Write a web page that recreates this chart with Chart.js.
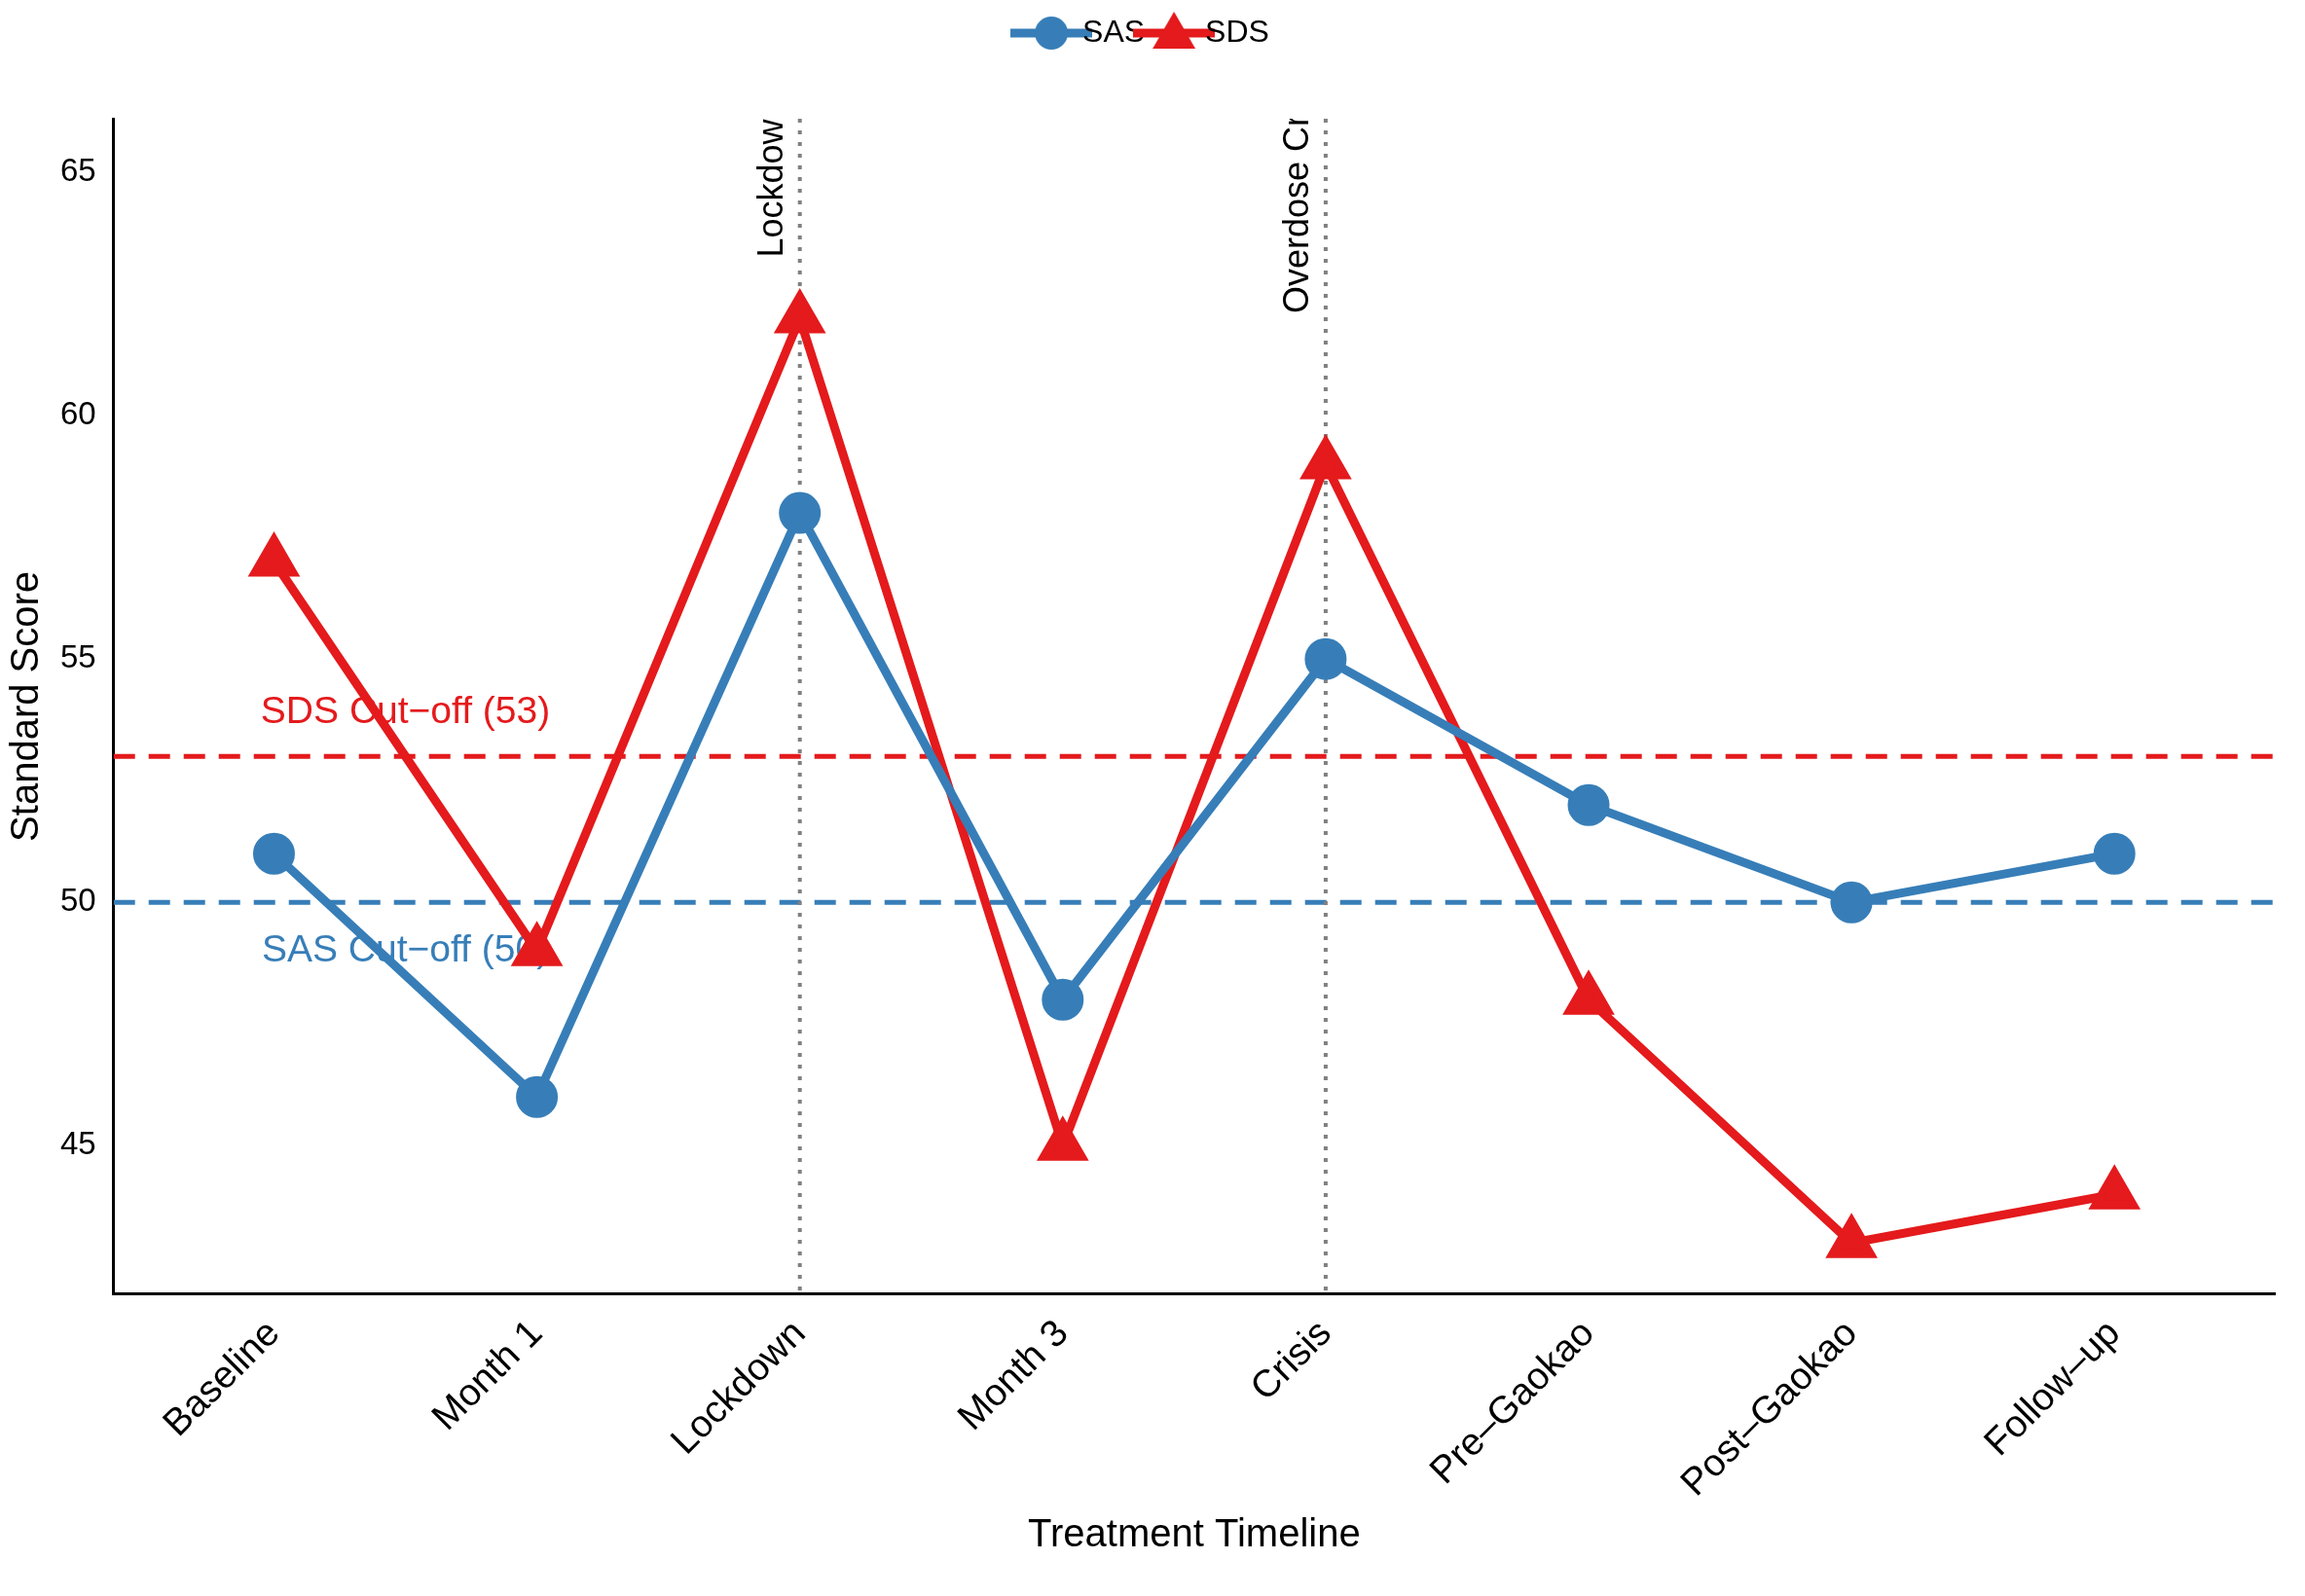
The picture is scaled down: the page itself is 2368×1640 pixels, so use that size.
<!DOCTYPE html>
<html>
<head>
<meta charset="utf-8">
<script src="https://cdn.jsdelivr.net/npm/chart.js@4"></script>
<style>
  body { margin: 0; background: #fff; }
  #wrap { width: 2368px; height: 1640px; }
</style>
</head>
<body>
<div id="wrap"><canvas id="chart" width="2368" height="1640"></canvas></div>
<script>
// DATA
const categories = ["Baseline", "Month 1", "Lockdown", "Month 3", "Crisis", "Pre\u2013Gaokao", "Post\u2013Gaokao", "Follow\u2013up"];
const sasValues = [51, 46, 58, 48, 55, 52, 50, 51];
const sdsValues = [57, 49, 62, 45, 59, 48, 43, 44];
const yTicks = [45, 50, 55, 60, 65];
const cutoffs = [
    { value: 53, label: "SDS Cut\u2212off (53)", color: "#E41A1C", labelY: 53.9 },
    { value: 50, label: "SAS Cut\u2212off (50)", color: "#377EB8", labelY: 49.0 }
];
const events = [
    { x: 2, label: "Lockdown", textStart: 63.25 },
    { x: 4, label: "Overdose Crisis", textStart: 62.1 }
];

const BLUE = "#377EB8", RED = "#E41A1C";
const FONT = "'Liberation Sans', Arial, sans-serif";

function pts(arr) { return arr.map((v, i) => ({ x: i, y: v })); }

// legend key: line with marker
function legendIcon(color, shape) {
    const c = document.createElement("canvas");
    c.width = 84; c.height = 44;
    const g = c.getContext("2d");
    g.strokeStyle = color; g.fillStyle = color; g.lineWidth = 9;
    g.beginPath(); g.moveTo(0, 22); g.lineTo(84, 22); g.stroke();
    g.beginPath();
    if (shape === "circle") g.arc(42, 22, 17, 0, Math.PI * 2);
    else { g.moveTo(42, 0); g.lineTo(64, 38); g.lineTo(20, 38); g.closePath(); }
    g.fill();
    return c;
}
const icons = [legendIcon(BLUE, "circle"), legendIcon(RED, "triangle")];

// REFERENCE LINES + LABELS
const refPlugin = {
    id: "refs",
    beforeInit(chart) {
        const fit = chart.legend.fit;
        chart.legend.fit = function () { fit.call(this); this.height += 62; };
    },
    beforeDatasetsDraw(chart) {
        const { ctx, chartArea: a, scales: { x, y } } = chart;
        ctx.save();
        ctx.beginPath();
        ctx.rect(a.left, a.top, a.right - a.left, a.bottom - a.top);
        ctx.clip();
        cutoffs.forEach(c => {
            ctx.strokeStyle = c.color;
            ctx.lineWidth = 5;
            ctx.setLineDash([22, 14]);
            ctx.beginPath();
            ctx.moveTo(a.left, y.getPixelForValue(c.value));
            ctx.lineTo(a.right, y.getPixelForValue(c.value));
            ctx.stroke();
            ctx.setLineDash([]);
            ctx.fillStyle = c.color;
            ctx.font = "39px " + FONT;
            ctx.textAlign = "center";
            ctx.textBaseline = "middle";
            ctx.fillText(c.label, x.getPixelForValue(0.5), y.getPixelForValue(c.labelY));
        });
        events.forEach(e => {
            const px = x.getPixelForValue(e.x);
            ctx.strokeStyle = "#808080";
            ctx.lineWidth = 4;
            ctx.setLineDash([4, 8]);
            ctx.beginPath();
            ctx.moveTo(px, a.top);
            ctx.lineTo(px, a.bottom);
            ctx.stroke();
            ctx.setLineDash([]);
            ctx.save();
            ctx.translate(px - 10, y.getPixelForValue(e.textStart));
            ctx.rotate(-Math.PI / 2);
            ctx.fillStyle = "#000";
            ctx.font = "36px " + FONT;
            ctx.textAlign = "left";
            ctx.textBaseline = "bottom";
            ctx.fillText(e.label, 0, 0);
            ctx.restore();
        });
        ctx.restore();
    }
};

new Chart(document.getElementById("chart"), {
    type: "line",
    data: {
        datasets: [{
            label: "SAS",
            data: pts(sasValues),
            borderColor: BLUE,
            backgroundColor: BLUE,
            borderWidth: 9,
            pointStyle: "circle",
            pointRadius: 17,
            pointHoverRadius: 17
        }, {
            label: "SDS",
            data: pts(sdsValues),
            borderColor: RED,
            backgroundColor: RED,
            borderWidth: 9,
            pointStyle: "triangle",
            pointRadius: 22,
            pointHoverRadius: 22
        }]
    },
    options: {
        responsive: false,
        animation: false,
        layout: { padding: { left: 0, right: 0, top: 4, bottom: 38 } },
        plugins: {
            legend: {
                position: "top",
                labels: {
                    usePointStyle: true,
                    generateLabels: chart => chart.data.datasets.map((d, i) => ({
                        text: d.label, pointStyle: icons[i], datasetIndex: i,
                        fillStyle: d.backgroundColor, strokeStyle: d.borderColor, lineWidth: 0, fontColor: "#000"
                    })),
                    font: { size: 32, family: FONT },
                    color: "#000",
                    padding: 14
                }
            },
            tooltip: { enabled: false }
        },
        scales: {
            x: {
                type: "linear",
                min: -0.61,
                max: 7.61,
                afterBuildTicks(s) { s.ticks = categories.map((c, i) => ({ value: i })); },
                ticks: {
                    callback: v => categories[v],
                    maxRotation: 45,
                    minRotation: 45,
                    font: { size: 39, family: FONT },
                    color: "#000",
                    padding: 6
                },
                grid: { display: false, drawTicks: true, tickLength: 12, tickWidth: 3, tickColor: "#000" },
                border: { color: "#000", width: 3 },
                title: { display: true, text: "Treatment Timeline", font: { size: 40, family: FONT }, color: "#000", padding: 0 }
            },
            y: {
                min: 41.95,
                max: 66.1,
                afterBuildTicks(s) { s.ticks = yTicks.map(v => ({ value: v })); },
                ticks: { font: { size: 33, family: FONT }, color: "#000", padding: 6 },
                grid: { display: false, drawTicks: true, tickLength: 12, tickWidth: 3, tickColor: "#000" },
                border: { color: "#000", width: 3 },
                title: { display: true, text: "Standard Score", font: { size: 40, family: FONT }, color: "#000", padding: 4 }
            }
        }
    },
    plugins: [refPlugin]
});
</script>
</body>
</html>
